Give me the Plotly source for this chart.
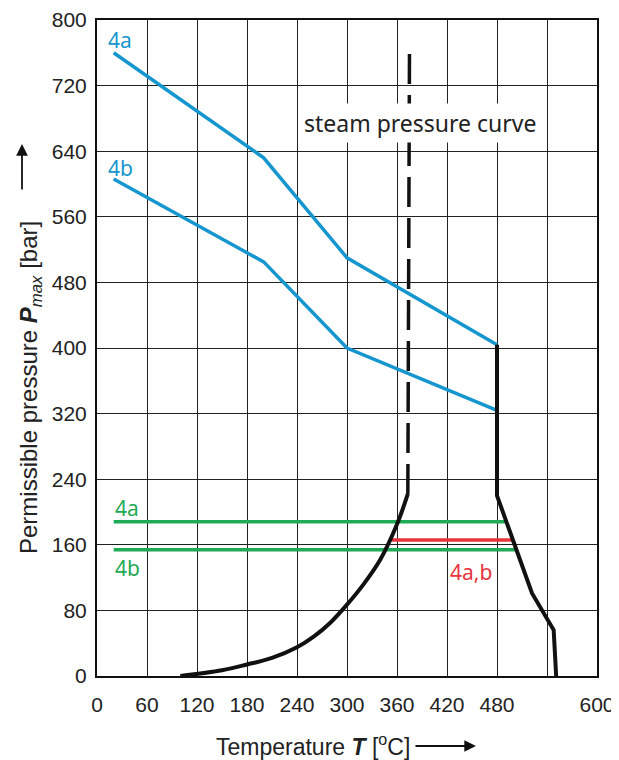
import plotly.graph_objects as go

# ---- data ----
T_4a_blue = [20, 200, 300, 480]
P_4a_blue = [760, 632, 510, 404]
T_4b_blue = [20, 200, 300, 480]
P_4b_blue = [606, 505, 400, 324]

T_4a_green = [20, 491]
P_4a_green = [188, 188]
T_4b_green = [20, 504]
P_4b_green = [154, 154]
T_red = [353, 499]
P_red = [166, 166]

T_sat = [100, 150, 180, 210, 240, 260, 280, 300, 320, 340, 360, 373]
P_sat = [0, 7, 14, 22, 35, 48, 65, 87, 112, 142, 185, 222]
T_sat_dash = [373, 375]
P_sat_dash = [222, 766]

T_right = [480, 480, 522, 548, 551]
P_right = [404, 220, 101, 56, 0]

x_tickvals = [0, 60, 120, 180, 240, 300, 360, 420, 480, 540, 600]
x_ticktext = ["0", "60", "120", "180", "240", "300", "360", "420", "480", "", "600"]
y_tickvals = [0, 80, 160, 240, 320, 400, 480, 560, 640, 720, 800]

BLUE = "#1696cf"
GREEN = "#1faa55"
RED = "#e8343c"
BLACK = "#111111"

fig = go.Figure()

def line(x, y, color, width, dash="solid", shape="linear"):
    fig.add_trace(go.Scatter(x=x, y=y, mode="lines",
                             line=dict(color=color, width=width, dash=dash, shape=shape),
                             hoverinfo="skip", showlegend=False))

line(T_4a_blue, P_4a_blue, BLUE, 3.5)
line(T_4b_blue, P_4b_blue, BLUE, 3.5)
line(T_4a_green, P_4a_green, GREEN, 3.5)
line(T_4b_green, P_4b_green, GREEN, 3.5)
line(T_red, P_red, RED, 3.5)
line(T_sat, P_sat, BLACK, 4, shape="spline")
line(T_sat_dash, P_sat_dash, BLACK, 3.5, dash="30px,11px")
line(T_right, P_right, BLACK, 4)

label_font = "Noto Sans"

def lab(x, y, text, color, size=21):
    fig.add_annotation(x=x, y=y, xref="x", yref="y", text=text, showarrow=False,
                       font=dict(family=label_font, size=size, color=color))

lab(28, 776, "4a", BLUE)
lab(28, 620, "4b", BLUE)
lab(36, 205, "4a", GREEN)
lab(36, 132, "4b", GREEN)
lab(449, 127, "4a,b", RED)

fig.add_annotation(x=388, y=674, xref="x", yref="y", text="steam pressure curve",
                   showarrow=False, bgcolor="white", borderpad=3,
                   font=dict(family=label_font, size=23, color="#222222"))

# axis titles as annotations (positions given in page pixels -> paper coords)
def px(xp):
    return (xp - 97) / 500.0

def py(yp):
    return (676 - yp) / 656.0

fig.add_annotation(x=px(30), y=py(388), xref="paper", yref="paper",
                   text="Permissible pressure <b><i>P</i></b><sub><i>max</i></sub> [bar]",
                   textangle=-90, showarrow=False, xanchor="center", yanchor="middle",
                   font=dict(family="Liberation Sans", size=24, color="#222222"))
fig.add_annotation(x=px(22), y=py(144), ax=0, ay=47, xref="paper", yref="paper",
                   axref="pixel", ayref="pixel", text="", showarrow=True,
                   arrowhead=2, arrowsize=1.3, arrowwidth=1.8, arrowcolor="#111111")

fig.add_annotation(x=px(313), y=py(745), xref="paper", yref="paper",
                   text="Temperature <b><i>T</i></b> [<sup>o</sup>C]",
                   showarrow=False, xanchor="center", yanchor="middle",
                   font=dict(family="Liberation Sans", size=23, color="#222222"))
fig.add_annotation(x=px(476), y=py(746), ax=-62, ay=0, xref="paper", yref="paper",
                   axref="pixel", ayref="pixel", text="", showarrow=True,
                   arrowhead=2, arrowsize=1.3, arrowwidth=1.8, arrowcolor="#111111")

fig.update_xaxes(range=[0, 600], tickvals=x_tickvals, ticktext=x_ticktext,
                 showgrid=True, gridcolor="#222222", gridwidth=1.4,
                 showline=True, linecolor="#111111", linewidth=2, mirror=True,
                 zeroline=False, ticks="", ticklabelstandoff=9,
                 automargin=False,
                 tickfont=dict(family="Liberation Sans", size=21, color="#222222"))
fig.update_yaxes(range=[0, 800], tickvals=y_tickvals,
                 showgrid=True, gridcolor="#222222", gridwidth=1.4,
                 showline=True, linecolor="#111111", linewidth=2, mirror=True,
                 zeroline=False, ticks="", ticklabelstandoff=4,
                 automargin=False,
                 tickfont=dict(family="Liberation Sans", size=21, color="#222222"))

# page body adds an 8px margin, so the figure is offset to compensate
fig.update_layout(width=611, height=752,
                  margin=dict(l=89, r=22, t=12, b=84, autoexpand=False),
                  plot_bgcolor="white", paper_bgcolor="white",
                  showlegend=False)

fig.write_html("out.html")
